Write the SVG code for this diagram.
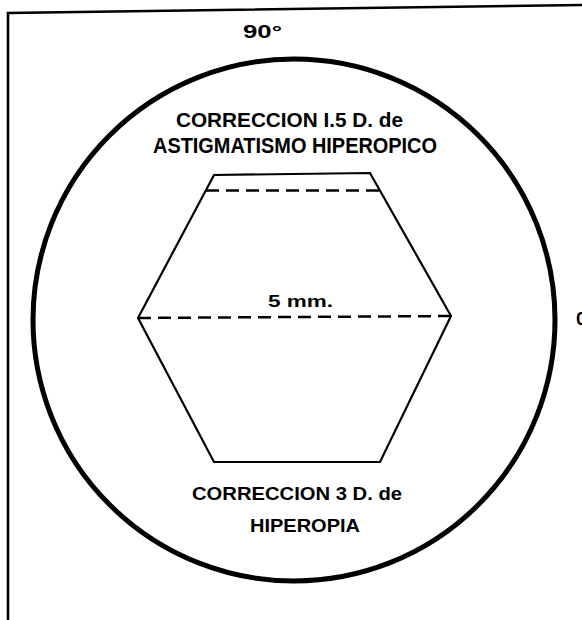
<svg xmlns="http://www.w3.org/2000/svg" width="582" height="620" viewBox="0 0 582 620">
<style>
.t{font-family:"Liberation Sans",Arial,sans-serif;font-weight:bold;fill:#000;}
.s{fill:none;stroke:#000;stroke-width:2.2;stroke-linejoin:miter;}
.d{fill:none;stroke:#000;stroke-width:2.5;stroke-dasharray:13 7;}
</style>
<rect width="582" height="620" fill="#fff"/>
<g id="frame">
<path d="M8,620 L8,13 L582,5" fill="none" stroke="#000" stroke-width="2.6"/>
</g>
<g id="circle">
<circle cx="294" cy="320" r="261" fill="none" stroke="#000" stroke-width="5"/>
</g>
<g id="hexagon">
<path class="s" d="M214,175 L370,173 L451,316 L380,462 L214,462 L138,318 Z"/>
</g>
<g id="connectors">
<line class="d" x1="206" y1="190.5" x2="380" y2="190.5"/>
<line class="d" x1="138" y1="318" x2="451" y2="316"/>
</g>
<g id="labels">
<text class="t" x="243" y="38" font-size="18" textLength="39" lengthAdjust="spacingAndGlyphs">90°</text>
<text class="t" x="176" y="126.5" font-size="20.5" textLength="227" lengthAdjust="spacingAndGlyphs">CORRECCION I.5 D. de</text>
<text class="t" x="153" y="153" font-size="21.5" textLength="284" lengthAdjust="spacingAndGlyphs">ASTIGMATISMO HIPEROPICO</text>
<text class="t" x="268" y="306.5" font-size="17" textLength="65" lengthAdjust="spacingAndGlyphs">5 mm.</text>
<text class="t" x="192" y="500" font-size="19" textLength="210" lengthAdjust="spacingAndGlyphs">CORRECCION 3 D. de</text>
<text class="t" x="250" y="531.5" font-size="19" textLength="110" lengthAdjust="spacingAndGlyphs">HIPEROPIA</text>
<text class="t" x="576" y="325" font-size="19">0</text>
</g>
</svg>
